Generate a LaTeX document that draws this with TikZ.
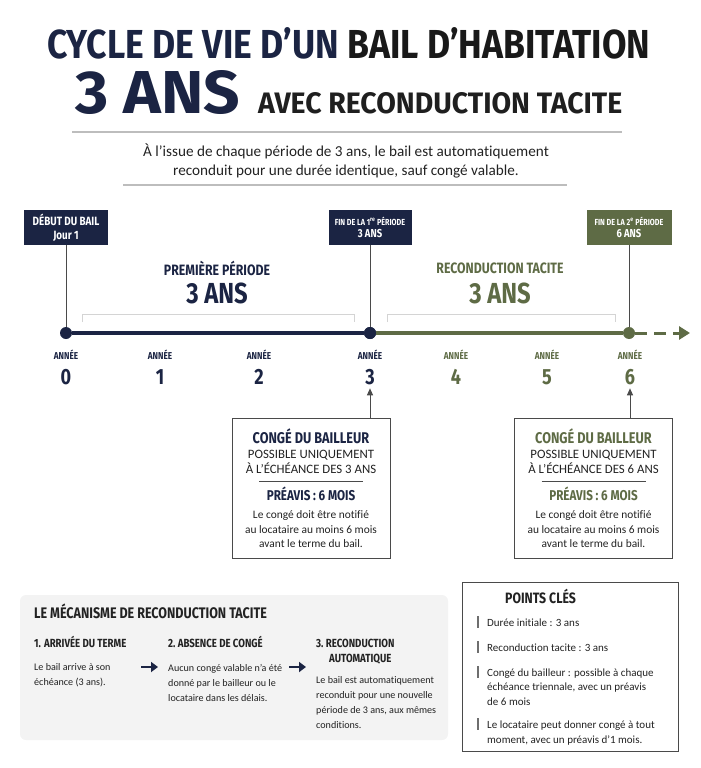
\documentclass[tikz,border=0pt]{standalone}
\usepackage{fontspec}
\setmainfont{Carlito}[Ligatures=NoCommon]
\newfontfamily\headfont[FakeStretch=0.82]{Fira Sans}
\newfontfamily\titlefont{Fira Sans}
\usepackage{tikz}
\usetikzlibrary{arrows.meta,positioning,calc}

\definecolor{navy}{HTML}{1B2443}
\definecolor{olive}{HTML}{5E6B45}
\definecolor{inkgray}{HTML}{222222}
\definecolor{rulegray}{HTML}{BDBDBD}
\definecolor{brackgray}{HTML}{D4D4D4}
\definecolor{panelgray}{HTML}{F3F3F3}
\definecolor{boxgray}{HTML}{4A4A4A}

\newcommand{\fsz}[2]{\fontsize{#1}{#2}\selectfont}

\begin{document}
\begin{tikzpicture}[
  x=1pt, y=-1pt,
  >=Stealth,
  tag/.style={rectangle, text=white, align=center, inner sep=1pt,
    minimum height=35pt, font=\headfont\bfseries},
  dot/.style={circle, inner sep=0pt, minimum size=12pt},
  annee/.style={font=\headfont\bfseries\fsz{10}{11}},
  chiffre/.style={font=\headfont\bfseries\fsz{22}{24}},
  congebox/.style={draw=boxgray, line width=1pt, fill=white,
    minimum width=158pt, minimum height=140pt},
  boxtitle/.style={font=\headfont\bfseries\fsz{15.5}{17}},
  boxcaps/.style={font=\fsz{12.8}{15}, text=inkgray, align=center},
  boxbody/.style={font=\fsz{11.4}{14.5}, text=inkgray, align=center},
  stephead/.style={anchor=base west, inner sep=0pt, font=\headfont\bfseries\fsz{11.8}{15},
    text=inkgray, align=left},
  stepbody/.style={anchor=base west, inner sep=0pt, font=\fsz{10.1}{14.7},
    text=inkgray, align=left},
  steparrow/.style={navy, line width=2.6pt, -{Triangle[length=7pt,width=10pt]}},
  pointitem/.style={anchor=base west, inner sep=0pt, font=\fsz{11}{14.5},
    text=inkgray, align=left},
]
\useasboundingbox (0,0) rectangle (701,768);

% Title
\node[anchor=base west, inner sep=0pt] (titre) at (47,58)
  {\resizebox{603pt}{31pt}{\titlefont\bfseries\textcolor{navy}{CYCLE DE VIE D’UN} \textcolor{black!90}{BAIL D’HABITATION}}};
\node[anchor=base west, inner sep=0pt] (troisans) at (75,113)
  {\resizebox{165pt}{43pt}{\titlefont\bfseries\textcolor{navy}{3 ANS}}};
\node[anchor=base west, inner sep=0pt] (avec) at (258,113)
  {\resizebox{364pt}{21pt}{\titlefont\bfseries\textcolor{black!88}{AVEC RECONDUCTION TACITE}}};

% Intro
\draw[rulegray, line width=1.2pt] (72,132) -- (622,132);
\node[align=center, font=\fsz{15.2}{19}, text=inkgray] (intro) at (346,161)
  {À l’issue de chaque période de 3 ans, le bail est automatiquement\\
   reconduit pour une durée identique, sauf congé valable.};
\draw[rulegray, line width=1.2pt] (123,185) -- (567,185);

% Tags
\node[tag, fill=navy, minimum width=84pt, font=\headfont\bfseries\fsz{12}{14}] (debut) at (66,227.5)
  {DÉBUT DU BAIL\\Jour 1};
\node[tag, fill=navy, minimum width=83pt] (fin1) at (370,227.5)
  {{\fsz{8.8}{12}FIN DE LA 1\textsuperscript{re} PÉRIODE}\\{\fsz{11.5}{14}3 ANS}};
\node[tag, fill=olive, minimum width=85pt] (fin2) at (629,227.5)
  {{\fsz{8.8}{12}FIN DE LA 2\textsuperscript{e} PÉRIODE}\\{\fsz{11.5}{14}6 ANS}};

% Timeline
\node[dot, fill=navy] (p0) at (66,333) {};
\node[dot, fill=navy] (p3) at (370,333) {};
\node[dot, fill=olive] (p6) at (629,333) {};
\coordinate (pend) at (690,333);
\draw[boxgray, line width=1pt] (debut) -- (p0);
\draw[boxgray, line width=1pt] (fin1) -- (p3);
\draw[boxgray, line width=1pt] (fin2) -- (p6);
\draw[olive, line width=4pt] (p3) -- (p6);
\draw[navy, line width=4pt] (p0) -- (p3);
\draw[olive, line width=3pt, dash pattern=on 12pt off 7pt,
  -{Triangle[length=11pt,width=13pt]}] (p6) -- (pend);
\node[dot, fill=navy] at (p3) {};

% Periods
\draw[brackgray, line width=1pt] (82,322) -- (82,314) -- (354,314) -- (354,322);
\draw[brackgray, line width=1pt] (387,322) -- (387,314) -- (615,314) -- (615,322);
\node[font=\headfont\bfseries\fsz{15}{17}, text=navy] (per1) at (217,268) {PREMIÈRE PÉRIODE};
\node[font=\headfont\bfseries\fsz{29}{31}, text=navy] (per1ans) at (217,293) {3 ANS};
\node[font=\headfont\bfseries\fsz{15}{17}, text=olive] (per2) at (500,268) {RECONDUCTION TACITE};
\node[font=\headfont\bfseries\fsz{29}{31}, text=olive] (per2ans) at (500,293) {3 ANS};

% Years
\foreach \i/\x/\c in {0/66/navy, 1/160/navy, 2/259/navy, 3/370/navy,
                      4/456/olive, 5/547/olive, 6/630/olive} {
  \node[annee, text=\c] (a\i) at (\x,355) {ANNÉE};
  \node[chiffre, text=\c] (n\i) at (\x,377) {\i};
}

% Conge boxes
\foreach \nm/\cx/\col/\yr in {conge1/311/navy/3, conge2/593.5/olive/6} {
  \node[congebox] (\nm) at (\cx,488) {};
  \node[boxtitle, text=\col] (\nm t) at (\cx,436) {CONGÉ DU BAILLEUR};
  \node[boxcaps] (\nm c) at (\cx,461.5) {POSSIBLE UNIQUEMENT\\À L’ÉCHÉANCE DES \yr{} ANS};
  \draw[boxgray, line width=0.8pt] ($(\cx,481)+(-52,0)$) -- ($(\cx,481)+(52,0)$);
  \node[boxtitle, text=\col, font=\headfont\bfseries\fsz{14.2}{16}] (\nm p) at (\cx,494) {PRÉAVIS : 6 MOIS};
  \node[boxbody] (\nm b) at (\cx,529.5)
    {Le congé doit être notifié\\au locataire au moins 6 mois\\avant le terme du bail.};
  \draw[boxgray, line width=1pt, -{Triangle[length=7pt,width=6pt]}] (\nm.north -| n\yr) -- (n\yr);
}

% Mecanisme
\node[fill=panelgray, rounded corners=6pt, minimum width=428pt, minimum height=145pt] (meca) at (234,667.5) {};
\node[anchor=base west, inner sep=0pt, font=\headfont\bfseries\fsz{15.3}{17}, text=inkgray] (mecat) at (34,618)
  {LE MÉCANISME DE RECONDUCTION TACITE};
\node[stephead] (s1) at (34,647) {1. ARRIVÉE DU TERME};
\node[stepbody] (s1b) at (34,685) {Le bail arrive à son\\échéance (3 ans).};
\node[stephead] (s2) at (168,647) {2.\ ABSENCE DE CONGÉ};
\node[stepbody] (s2b) at (168,701) {Aucun congé valable n’a été\\donné par le bailleur ou le\\locataire dans les délais.};
\node[stephead] (s3) at (316,662) {3.\ RECONDUCTION\\\hspace*{13pt}AUTOMATIQUE};
\node[stepbody] (s3b) at (316,728) {Le bail est automatiquement\\reconduit pour une nouvelle\\période de 3 ans, aux mêmes\\conditions.};
\coordinate (f1a) at (141,667);
\coordinate (f1b) at (158,667);
\coordinate (f2a) at (289,667);
\coordinate (f2b) at (306,667);
\draw[steparrow] (f1a) -- (f1b);
\draw[steparrow] (f2a) -- (f2b);

% Points cles
\node[draw=boxgray, line width=1pt, fill=white, minimum width=216pt, minimum height=169pt] (points) at (570,666.5) {};
\node[anchor=base west, inner sep=0pt, font=\headfont\bfseries\fsz{15}{17}, text=inkgray] (pointst) at (505,603) {POINTS CLÉS};
\foreach \k/\y/\ylast/\txt in {1/626/626/{Durée initiale : 3 ans},
                        2/651/651/{Reconduction tacite : 3 ans},
                        3/676/705/{Congé du bailleur : possible à chaque\\échéance triennale, avec un préavis\\de 6 mois},
                        4/728/743/{Le locataire peut donner congé à tout\\moment, avec un préavis d’1 mois.}} {
  \node[pointitem] (pt\k) at (487,\ylast) {\txt};
  \draw[boxgray!80, line width=1.5pt] (478,\y-10) -- (478,\y+2);
}
\end{tikzpicture}
\end{document}
